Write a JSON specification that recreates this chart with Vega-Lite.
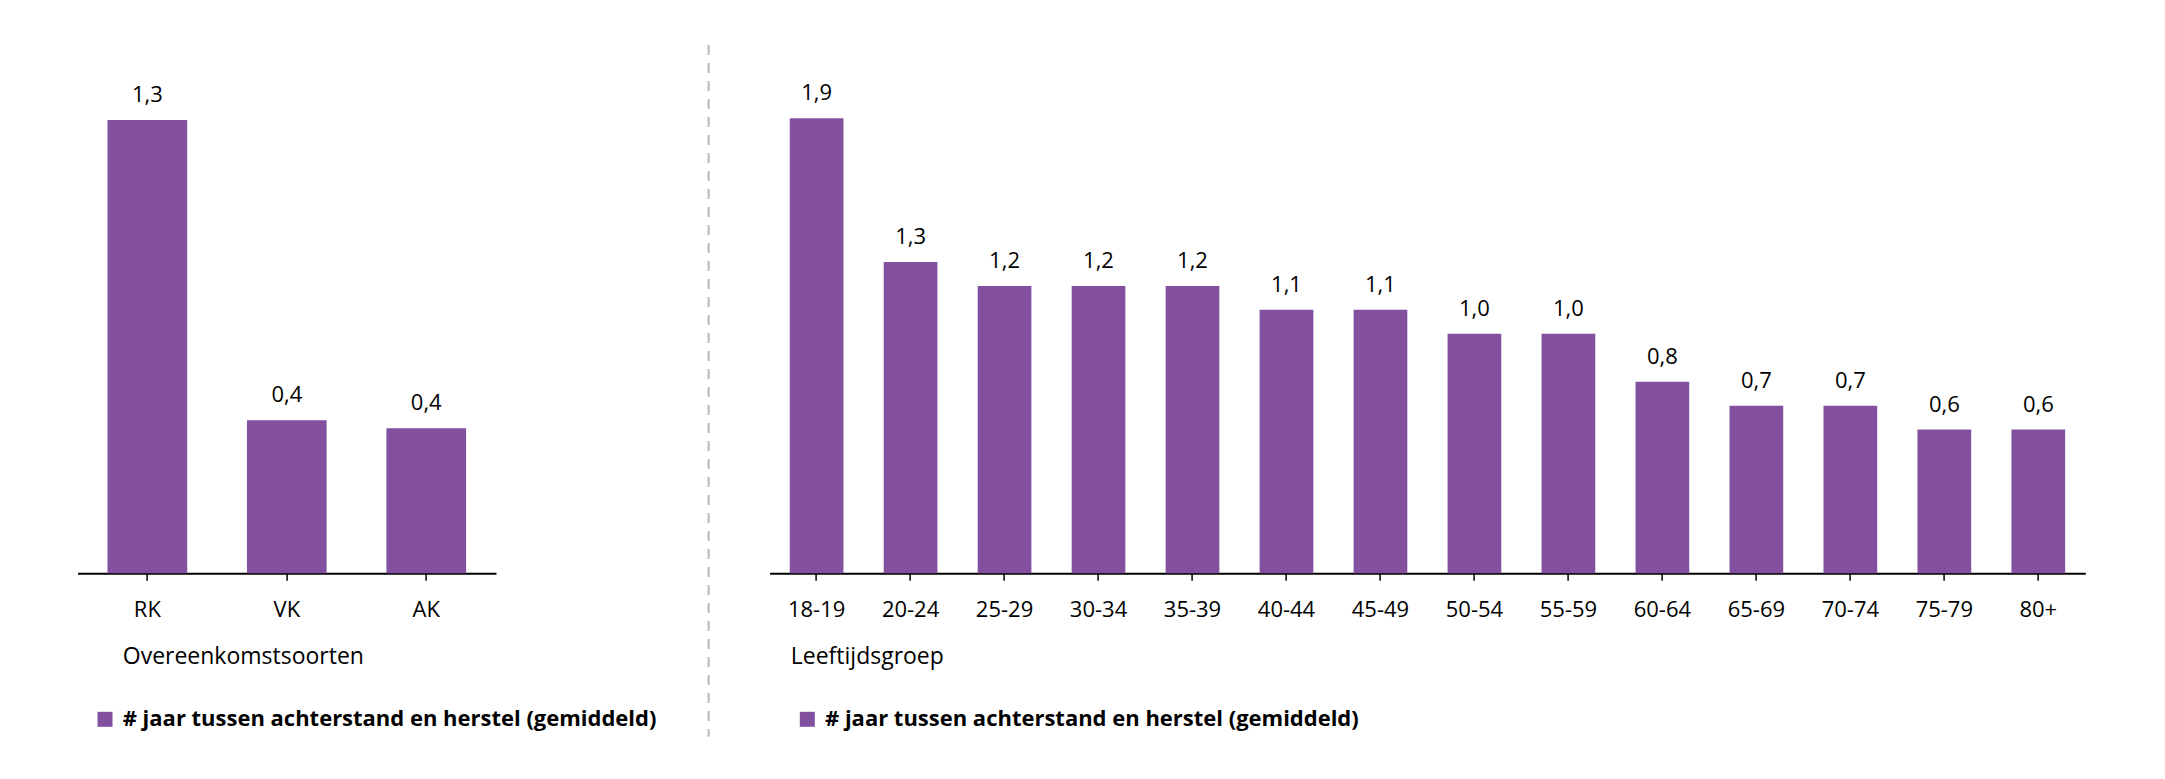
{
  "$schema": "https://vega.github.io/schema/vega-lite/v6.json",
  "background": "white",
  "padding": {"left": 77.6, "top": 43.3, "right": 0, "bottom": 0},
  "autosize": {"type": "pad"},
  "bounds": "flush",
  "spacing": 0,
  "resolve": {"scale": {"color": "independent"}, "legend": {"color": "independent"}},
  "config": {
    "locale": {"number": {"decimal": ",", "thousands": ".", "grouping": [3], "currency": ["€ ", ""]}},
    "view": {"stroke": null},
    "font": "Open Sans",
    "axisX": {
      "labelAngle": 0, "labelFontSize": 22, "labelColor": "black", "labelFont": "Open Sans",
      "labelBaseline": "alphabetic", "labelPadding": 36,
      "tickSize": 7, "tickColor": "black", "tickWidth": 1.5,
      "domainColor": "black", "domainWidth": 2,
      "titleFontSize": 23, "titleFontWeight": "normal", "titleColor": "black", "titleFont": "Open Sans",
      "titleAlign": "left", "titleBaseline": "alphabetic", "titleY": 90, "titleAnchor": "start",
      "grid": false
    },
    "legend": {
      "padding": 0, "symbolType": "square", "symbolSize": 225, "symbolStrokeWidth": 0,
      "labelFontSize": 22, "labelFontWeight": "bold", "labelColor": "black", "labelFont": "Open Sans",
      "labelLimit": 1000, "labelOffset": 6.7
    }
  },
  "hconcat": [
    {
      "width": 418.4,
      "height": 479,
      "data": {"values": [
        {"soort": "RK", "jaren": 1.325},
        {"soort": "VK", "jaren": 0.447},
        {"soort": "AK", "jaren": 0.424}
      ]},
      "encoding": {
        "x": {"field": "soort", "type": "nominal", "sort": null,
              "scale": {"paddingInner": 0.4286, "paddingOuter": 0.2143},
              "axis": {"title": "Overeenkomstsoorten", "titleX": 44.7}},
        "y": {"field": "jaren", "type": "quantitative",
              "scale": {"domain": [0, 1.4], "nice": false}, "axis": null}
      },
      "layer": [
        {
          "mark": {"type": "bar"},
          "encoding": {
            "color": {"datum": "# jaar tussen achterstand en herstel (gemiddeld)",
                      "scale": {"range": ["#8350a0"]},
                      "legend": {"title": null, "orient": "none", "legendX": 16.4, "legendY": 614}}
          }
        },
        {
          "mark": {"type": "text", "baseline": "alphabetic", "dy": -18, "fontSize": 22, "color": "black", "font": "Open Sans"},
          "encoding": {"text": {"field": "jaren", "type": "quantitative", "format": ".1f"}}
        }
      ]
    },
    {
      "width": 272.3,
      "height": 479,
      "data": {"values": [{"lijn": "scheiding"}]},
      "mark": {"type": "rule", "color": "#c3c3c3", "strokeWidth": 2.5, "strokeDash": [10, 8]},
      "encoding": {
        "x": {"datum": 0.7786, "type": "quantitative", "scale": {"domain": [0, 1], "nice": false, "zero": false}, "axis": null},
        "y": {"datum": 1.1029, "type": "quantitative", "scale": {"domain": [0, 1], "nice": false, "zero": false}, "axis": null},
        "y2": {"datum": -0.3411}
      }
    },
    {
      "width": 1315.7,
      "height": 479,
      "data": {"values": [
        {"groep": "18-19", "jaren": 1.9},
        {"groep": "20-24", "jaren": 1.3},
        {"groep": "25-29", "jaren": 1.2},
        {"groep": "30-34", "jaren": 1.2},
        {"groep": "35-39", "jaren": 1.2},
        {"groep": "40-44", "jaren": 1.1},
        {"groep": "45-49", "jaren": 1.1},
        {"groep": "50-54", "jaren": 1.0},
        {"groep": "55-59", "jaren": 1.0},
        {"groep": "60-64", "jaren": 0.8},
        {"groep": "65-69", "jaren": 0.7},
        {"groep": "70-74", "jaren": 0.7},
        {"groep": "75-79", "jaren": 0.6},
        {"groep": "80+", "jaren": 0.6}
      ]},
      "encoding": {
        "x": {"field": "groep", "type": "nominal", "sort": null,
              "scale": {"paddingInner": 0.4286, "paddingOuter": 0.2143},
              "axis": {"title": "Leeftijdsgroep", "titleX": 20.7}},
        "y": {"field": "jaren", "type": "quantitative",
              "scale": {"domain": [0, 2], "nice": false}, "axis": null}
      },
      "layer": [
        {
          "mark": {"type": "bar"},
          "encoding": {
            "color": {"datum": "# jaar tussen achterstand en herstel (gemiddeld)",
                      "scale": {"range": ["#8350a0"]},
                      "legend": {"title": null, "orient": "none", "legendX": 26.7, "legendY": 614}}
          }
        },
        {
          "mark": {"type": "text", "baseline": "alphabetic", "dy": -18, "fontSize": 22, "color": "black", "font": "Open Sans"},
          "encoding": {"text": {"field": "jaren", "type": "quantitative", "format": ".1f"}}
        }
      ]
    }
  ]
}
